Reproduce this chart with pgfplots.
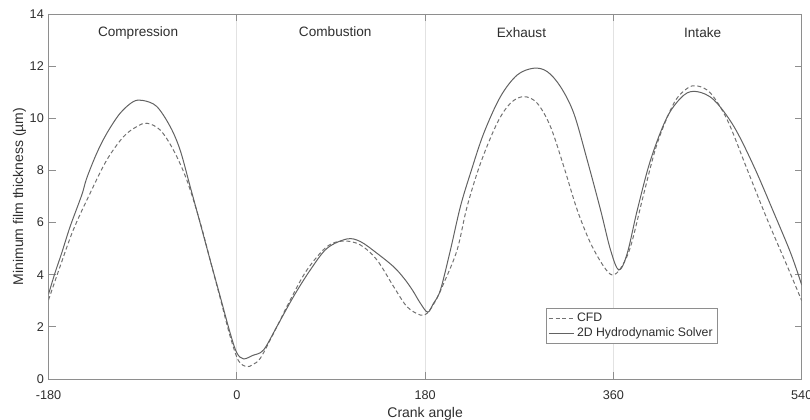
\documentclass[border=0pt]{standalone}
\usepackage{fontspec}
\setmainfont{Liberation Sans}
\usepackage{pgfplots}
\pgfplotsset{compat=1.18}
\definecolor{axgray}{HTML}{8E8E8E}
\definecolor{txtgray}{HTML}{2E2E2E}
\definecolor{gridgray}{HTML}{E2E2E2}
\definecolor{solidc}{HTML}{626262}
\definecolor{dashc}{HTML}{727272}
\begin{document}
\begin{tikzpicture}
\begin{axis}[
  scale only axis, width=565pt, height=273.75pt,
  xmin=-180, xmax=540, ymin=0, ymax=14,
  xtick={-180,0,180,360,540}, xticklabels={-180,0,180,360,540},
  ytick={0,2,4,6,8,10,12,14},
  tick align=inside, major tick length=5.25pt,
  axis line style={axgray, line width=0.6pt}, tick style={axgray, line width=0.6pt},
  xmajorgrids=true, major grid style={gridgray, line width=0.6pt},
  ticklabel style={font=\fontsize{9.5}{11}\selectfont, text=txtgray},
  xticklabel style={anchor=base, yshift=-15.2pt},
  /pgf/number format/assume math mode=true,
  xlabel={Crank angle}, ylabel={Minimum film thickness (µm)},
  label style={font=\fontsize{10.5}{12}\selectfont, text=txtgray},
  xlabel style={at={(axis description cs:0.5,0)}, anchor=base, yshift=-29.25pt},
  ylabel style={at={(axis description cs:-0.0338,0.5)}, anchor=base},
  legend style={at={(0.889,0.195)}, anchor=north east, draw=axgray, line width=0.6pt,
    font=\fontsize{9.2}{10}\selectfont, text=txtgray, inner sep=1.8pt, row sep=-1pt},
  legend cell align=left,
  legend image code/.code={\draw[#1] (0cm,0cm) -- (0.66cm,0cm);},
]
\addplot[dashc, line width=0.75pt, dash pattern=on 3pt off 2pt, smooth, tension=0.55] coordinates {
(-180,3.03) (-169,4.31) (-156.3,5.72) (-140.3,7.12) (-124.3,8.40) (-108.4,9.29)
(-95.6,9.68) (-86.0,9.81) (-73.3,9.55) (-60.6,8.78) (-47.8,7.63) (-35.0,6.0)
(-25.5,4.56) (-15.9,3.1) (-6.3,1.62) (1.6,0.7) (9.6,0.47) (15,0.55) (22.4,0.79)
(35.1,1.75) (51.1,3.03) (67.0,4.18) (86.2,5.08) (102.1,5.29) (118.1,5.14)
(134.0,4.56) (149.9,3.54) (162.7,2.77) (175.5,2.45) (181.9,2.52) (190,3.0)
(197.8,3.67) (210.6,4.95) (220.1,6.61) (232.9,8.27) (248.8,9.81) (261.6,10.58)
(274.3,10.83) (287.1,10.58) (299.8,9.68) (312.6,8.14) (325.4,6.48) (338.1,5.21)
(350.8,4.31) (358.9,3.99) (366.8,4.24) (376.4,5.08) (389.1,7.12) (401.9,9.04)
(417.8,10.58) (430.6,11.15) (440.2,11.24) (452.9,10.96) (468.9,9.93) (488.0,8.02)
(507.2,6.10) (526.3,4.31) (540,3.0)
};
\addlegendentry{CFD}
\addplot[solidc, line width=0.75pt, smooth, tension=0.55] coordinates {
(-180,3.25) (-173.8,4.07) (-167.4,4.83) (-159.4,5.84) (-148.2,7.06) (-143.5,7.70)
(-133.9,8.66) (-124.3,9.42) (-111.6,10.19) (-98.9,10.64) (-89.3,10.68) (-76.5,10.45)
(-63.7,9.68) (-54.2,8.78) (-44.6,7.38) (-35.0,5.97) (-25.5,4.56) (-15.9,3.16)
(-6.3,1.75) (0,1.0) (6.4,0.77) (15,0.9) (25.5,1.11) (38.3,2.01) (54.2,3.16)
(70.2,4.18) (86.2,5.01) (105.3,5.37) (118.1,5.27) (134.0,4.82) (150,4.3) (160,3.85)
(168,3.4) (175.5,2.90) (182.5,2.56) (188,2.9) (194.6,3.41) (204.2,4.95)
(213.7,6.61) (223.3,7.89) (236.0,9.42) (252.0,10.83) (268.0,11.66) (283.9,11.92)
(296.7,11.79) (309.4,11.21) (322.1,10.19) (334.9,8.40) (347.7,6.48) (357.2,4.95)
(365.2,4.18) (373.2,4.82) (382.8,6.48) (395.5,8.40) (411.5,10.06) (427.4,10.89)
(440.2,11.02) (456.1,10.70) (475.2,9.68) (494.4,8.14) (513.5,6.36) (529.5,4.82)
(540,3.6)
};
\addlegendentry{2D Hydrodynamic Solver}
\node[font=\fontsize{10.2}{12}\selectfont, text=txtgray] at (axis cs:-94.4,13.27) {Compression};
\node[font=\fontsize{10.2}{12}\selectfont, text=txtgray] at (axis cs:94.1,13.31) {Combustion};
\node[font=\fontsize{10.2}{12}\selectfont, text=txtgray] at (axis cs:272.1,13.27) {Exhaust};
\node[font=\fontsize{10.2}{12}\selectfont, text=txtgray] at (axis cs:445.3,13.27) {Intake};
\end{axis}
\pgfresetboundingbox
\path[use as bounding box] ([xshift=-36.4pt,yshift=-30.75pt]current axis.south west) rectangle ([xshift=6.2pt,yshift=10.5pt]current axis.north east);
\end{tikzpicture}
\end{document}
